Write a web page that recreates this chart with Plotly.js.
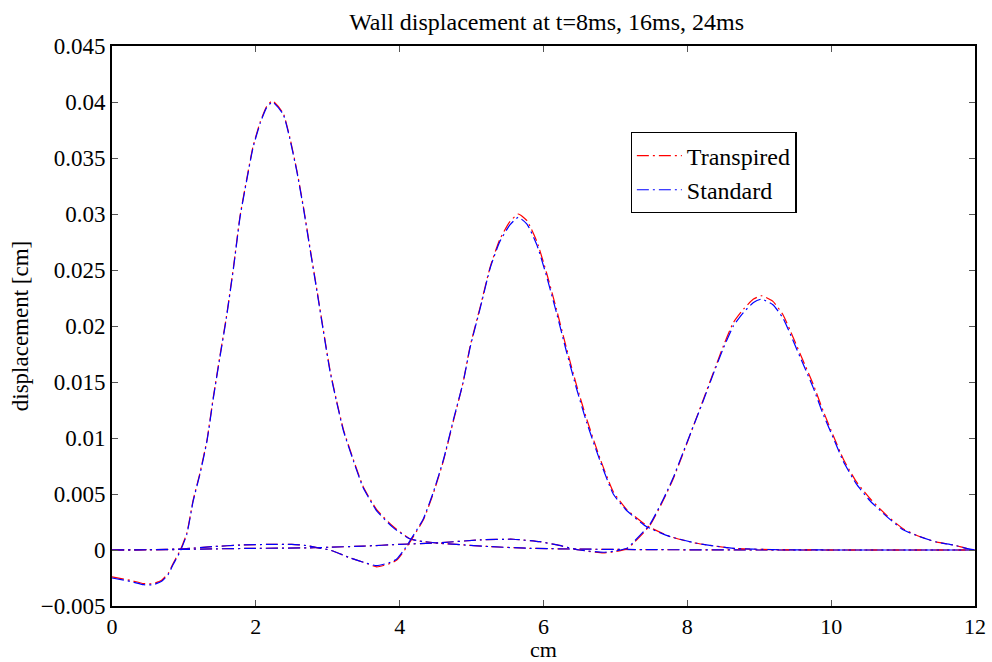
<!DOCTYPE html>
<html>
<head>
<meta charset="utf-8">
<script src="https://cdn.plot.ly/plotly-3.0.1.min.js"></script>
<style>html,body{margin:0;padding:0;background:#fff;}#chart{width:992px;height:662px;}</style>
</head>
<body>
<div id="chart"></div>
<script>
// t = 8 ms
const x8 = [0, 0.25, 0.44, 0.57, 0.69, 0.78, 0.85, 0.95, 1.04, 1.13, 1.22, 1.32, 1.41, 1.50, 1.59, 1.69, 1.78, 1.87, 1.96, 2.06, 2.15, 2.23, 2.38, 2.47, 2.57, 2.66, 2.75, 2.85, 2.94, 3.03, 3.12, 3.22, 3.36, 3.49, 3.68, 3.91, 4.14, 4.28, 4.56, 4.79, 5.26, 5.81, 6.5, 7.5, 9, 10.5, 12];
const y8Transpired = [-0.0024, -0.0027, -0.0030, -0.0030, -0.0027, -0.0021, -0.0012, 0.0000, 0.0015, 0.0045, 0.0068, 0.0098, 0.0137, 0.0173, 0.0208, 0.0253, 0.0298, 0.0330, 0.0360, 0.0382, 0.0396, 0.0401, 0.0390, 0.0369, 0.0339, 0.0307, 0.0271, 0.0232, 0.0196, 0.0161, 0.0134, 0.0107, 0.0080, 0.0057, 0.0036, 0.0021, 0.0010, 0.0008, 0.0006, 0.0005, 0.0003, 0.00015, 0.00008, 0.00003, 0, 0, 0];
const y8Standard = [-0.0025, -0.0028, -0.0031, -0.0031, -0.0028, -0.0022, -0.0013, -0.0001, 0.0014, 0.0044, 0.0067, 0.0097, 0.0136, 0.0172, 0.0207, 0.0252, 0.0297, 0.0329, 0.0359, 0.0381, 0.0395, 0.0400, 0.0389, 0.0368, 0.0338, 0.0306, 0.0270, 0.0231, 0.0195, 0.0160, 0.0133, 0.0106, 0.0079, 0.0056, 0.0035, 0.0020, 0.0010, 0.0008, 0.0006, 0.0005, 0.0003, 0.00015, 0.00008, 0.00003, 0, 0, 0];

// t = 16 ms
const x16 = [0, 0.5, 1.0, 1.4, 1.8, 2.2, 2.5, 2.7, 2.9, 3.03, 3.31, 3.5, 3.68, 3.87, 3.96, 4.07, 4.19, 4.33, 4.47, 4.61, 4.75, 4.88, 4.98, 5.12, 5.26, 5.39, 5.53, 5.65, 5.77, 5.91, 6.04, 6.18, 6.32, 6.46, 6.60, 6.79, 6.97, 7.16, 7.43, 7.76, 8.13, 8.64, 9.2, 10, 11, 12];
const y16Transpired = [0, 0.00003, 0.0001, 0.0003, 0.00045, 0.0005, 0.0005, 0.0004, 0.00015, 0, -0.0007, -0.0011, -0.0015, -0.0012, -0.0009, 0, 0.0012, 0.0027, 0.0051, 0.0080, 0.0116, 0.0149, 0.0182, 0.0217, 0.0253, 0.0277, 0.0293, 0.0300, 0.0294, 0.0275, 0.0248, 0.0215, 0.0180, 0.0147, 0.0117, 0.0081, 0.0052, 0.0036, 0.0022, 0.0012, 0.0006, 0.00015, 0.00003, 0, 0, 0];
const y16Standard = [0, 0.00003, 0.0001, 0.0003, 0.00045, 0.0005, 0.0005, 0.0004, 0.00015, 0, -0.0007, -0.0011, -0.0014, -0.0011, -0.0008, 0.0001, 0.0013, 0.0028, 0.0052, 0.0081, 0.0117, 0.0149, 0.0181, 0.0216, 0.0252, 0.0275, 0.0290, 0.0297, 0.0291, 0.0272, 0.0245, 0.0212, 0.0177, 0.0144, 0.0114, 0.0079, 0.0050, 0.0035, 0.0021, 0.0012, 0.0006, 0.00015, 0.00003, 0, 0, 0];

// t = 24 ms
const x24 = [0, 1, 1.4, 2.0, 2.8, 3.03, 3.5, 4.0, 4.56, 5.12, 5.58, 5.95, 6.19, 6.5, 6.83, 6.97, 7.16, 7.25, 7.48, 7.67, 7.80, 7.94, 8.08, 8.22, 8.36, 8.50, 8.64, 8.78, 8.92, 9.03, 9.19, 9.33, 9.47, 9.61, 9.75, 9.89, 10.03, 10.17, 10.35, 10.54, 10.77, 11.0, 11.23, 11.47, 11.70, 11.88, 12];
const y24Transpired = [0, 0.00005, 0.0001, 0.00015, 0.0002, 0.00025, 0.00035, 0.0005, 0.00065, 0.0009, 0.00096, 0.00074, 0.00045, 0, -0.00026, -0.00017, 0.0001, 0.0006, 0.0022, 0.0045, 0.0063, 0.0086, 0.0110, 0.0134, 0.0158, 0.0182, 0.0203, 0.0215, 0.0224, 0.0227, 0.0222, 0.0210, 0.0190, 0.0169, 0.0148, 0.0124, 0.0102, 0.0081, 0.0061, 0.0046, 0.0031, 0.0019, 0.0012, 0.0007, 0.00045, 0.00015, 0];
const y24Standard = [0, 0.00005, 0.0001, 0.00015, 0.0002, 0.00025, 0.00035, 0.0005, 0.00065, 0.0009, 0.00096, 0.00074, 0.00045, 0, -0.0002, -0.00012, 0.00015, 0.0007, 0.0023, 0.0046, 0.0064, 0.0087, 0.0110, 0.0133, 0.0157, 0.0180, 0.0200, 0.0212, 0.0221, 0.0224, 0.0219, 0.0207, 0.0187, 0.0166, 0.0145, 0.0121, 0.0100, 0.0079, 0.0059, 0.0044, 0.0030, 0.0018, 0.0012, 0.0007, 0.00045, 0.00015, 0];

const seriesNames = ['Transpired', 'Standard'];
const seriesColors = ['#ff0000', '#0000ff'];
const titleText = 'Wall displacement at t=8ms, 16ms, 24ms';
const xTitle = 'cm';
const yTitle = 'displacement [cm]';

const groups = [
  {x: x8, ys: [y8Transpired, y8Standard]},
  {x: x16, ys: [y16Transpired, y16Standard]},
  {x: x24, ys: [y24Transpired, y24Standard]}
];

const traces = [];
groups.forEach((g, gi) => {
  g.ys.forEach((y, si) => {
    traces.push({
      type: 'scatter', mode: 'lines',
      x: g.x, y: y,
      name: seriesNames[si],
      legendgroup: seriesNames[si],
      showlegend: gi === 0,
      line: {color: seriesColors[si], width: 1.2, dash: '12px,4px,2px,4px', shape: 'spline', smoothing: 0.5},
      hoverinfo: 'skip'
    });
  });
});

const font = '"Liberation Serif", "Times New Roman", Times, serif';
const layout = {
  width: 992, height: 662,
  margin: {l: 112, r: 17, t: 46, b: 56},
  paper_bgcolor: '#fff', plot_bgcolor: '#fff',
  font: {family: font, color: '#000', size: 22},
  title: {text: titleText, font: {family: font, size: 24, color: '#000'}, x: 0.551, xanchor: 'center', y: 0.968, yanchor: 'middle'},
  showlegend: true,
  legend: {
    x: 0.601, y: 0.846, xanchor: 'left', yanchor: 'top',
    bordercolor: '#000', borderwidth: 1.2, bgcolor: '#fff',
    font: {family: font, size: 24, color: '#000'},
    itemwidth: 45,
    tracegroupgap: 0
  },
  xaxis: {
    range: [0, 12], tick0: 0, dtick: 2,
    showline: true, linecolor: '#000', linewidth: 2, mirror: 'ticks',
    ticks: 'inside', ticklen: 6, tickwidth: 1, tickcolor: '#555',
    showgrid: false, zeroline: false,
    tickfont: {family: font, size: 22},
    title: {text: xTitle, font: {family: font, size: 22}, standoff: 4}
  },
  yaxis: {
    range: [-0.005, 0.045], tick0: 0, dtick: 0.005,
    showline: true, linecolor: '#000', linewidth: 2, mirror: 'ticks',
    ticks: 'inside', ticklen: 6, tickwidth: 1, tickcolor: '#555',
    showgrid: false, zeroline: false,
    tickfont: {family: font, size: 23},
    title: {text: yTitle, font: {family: font, size: 23}, standoff: 6}
  }
};

Plotly.newPlot('chart', traces, layout, {staticPlot: true, displayModeBar: false});
</script>
</body>
</html>
